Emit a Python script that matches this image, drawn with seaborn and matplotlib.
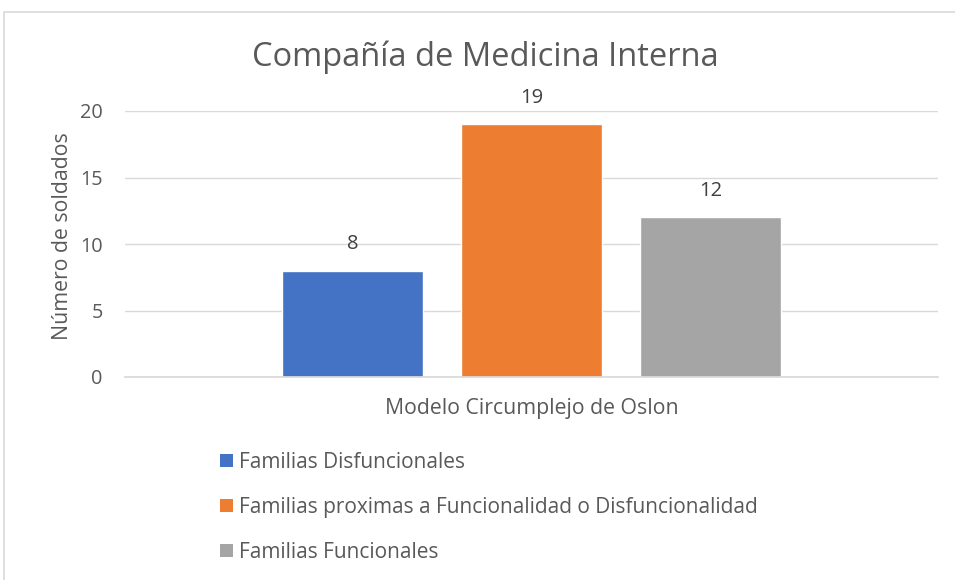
import matplotlib
matplotlib.use("Agg")
import matplotlib.pyplot as plt
from matplotlib.patches import Rectangle, Patch
import pandas as pd
import seaborn as sns

# datos del gráfico
categoria = ["Modelo Circumplejo de Oslon"]
series = ["Familias Disfuncionales",
          "Familias proximas a Funcionalidad o Disfuncionalidad",
          "Familias Funcionales"]
valores = [8, 19, 12]
colores = ["#4472C4", "#ED7D31", "#A5A5A5"]
yticks = [0, 5, 10, 15, 20]

df = pd.DataFrame({"cat": categoria * len(series), "serie": series, "valor": valores})

sns.set_theme(style="white")
plt.rcParams["font.family"] = ["Open Sans", "DejaVu Sans"]
gris = "#595959"

fig = plt.figure(figsize=(9.55, 5.8), dpi=100)
# marco del gráfico
fig.patches.append(Rectangle((4 / 955, -0.1), 1.0, 1.1 - 12 / 580, transform=fig.transFigure,
                             fill=False, edgecolor="#D9D9D9", linewidth=1.2))

ax = fig.add_axes([125 / 955, 1 - 377 / 580, (938 - 125) / 955, (377 - 111) / 580])
sns.barplot(data=df, x="cat", y="valor", hue="serie", hue_order=series, palette=colores,
            width=0.66, gap=0.21, legend=False, ax=ax, saturation=1)

ax.set_xlim(-0.5, 0.5)
ax.set_ylim(0, 20)
ax.set_yticks(yticks)
ax.grid(axis="y", color="#D9D9D9", linewidth=1)
ax.set_axisbelow(True)
for s in ["top", "right", "left"]:
    ax.spines[s].set_visible(False)
ax.spines["bottom"].set_color("#D9D9D9")
ax.tick_params(axis="y", length=0, labelsize=14.3, labelcolor=gris, pad=16)
ax.tick_params(axis="x", length=0, labelsize=15.3, labelcolor=gris, pad=15)
ax.set_xlabel("")
ax.set_ylabel("Número de soldados", fontsize=15.3, color=gris, labelpad=5)
ax.yaxis.label.set_y(0.53)

for cont in ax.containers:
    ax.bar_label(cont, fontsize=14.5, color="#404040", padding=12)

fig.text(485 / 955, 1 - 57 / 580, "Compañía de Medicina Interna", ha="center", va="center",
         fontsize=23.5, color=gris)

handles = [Patch(facecolor=c, edgecolor="none") for c in colores]
fig.legend(handles, series, loc="upper left", bbox_to_anchor=(220 / 955, 1 - 452 / 580),
           frameon=False, fontsize=15, labelcolor=gris, handlelength=0.6, handleheight=0.6,
           handletextpad=0.3, labelspacing=1.14, borderaxespad=0, borderpad=0)

fig.savefig("out.png", dpi=100)
